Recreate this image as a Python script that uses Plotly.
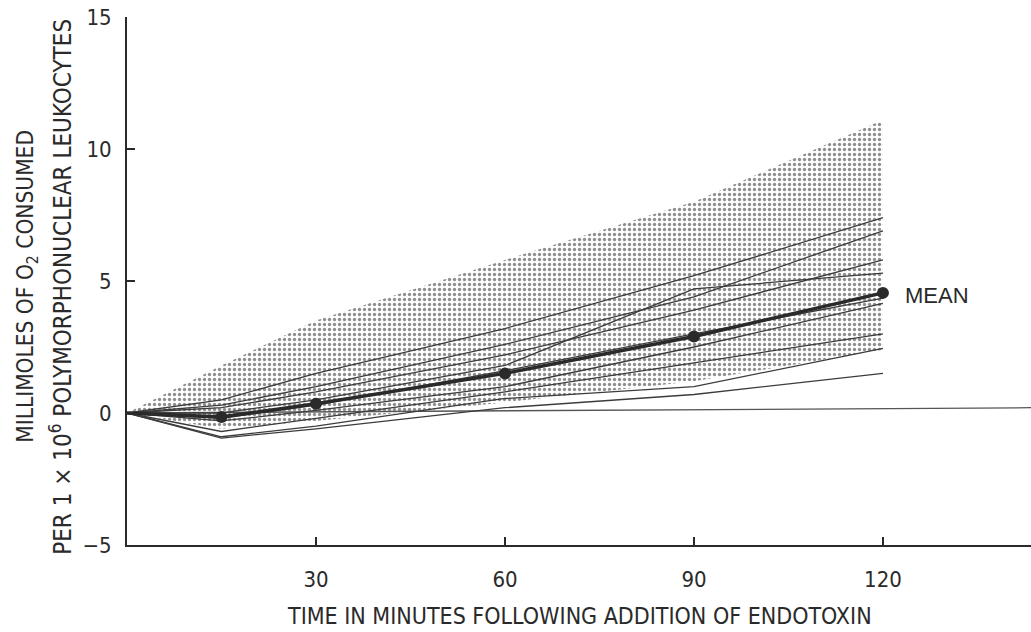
import plotly.graph_objects as go

# ---- data ----
times = [0, 15, 30, 60, 90, 120]

subjects = {
    "A": [0, 0.5, 1.5, 3.2, 5.2, 7.4],
    "B": [0, 0.3, 1.0, 2.6, 4.4, 6.9],
    "C": [0, 0.2, 0.8, 2.2, 3.9, 5.8],
    "D": [0, 0.0, 0.5, 1.8, 4.7, 5.3],
    "E": [0, -0.2, 0.3, 1.6, 3.0, 4.35],
    "F": [0, -0.3, 0.1, 1.0, 2.5, 4.15],
    "G": [0, -0.7, -0.2, 0.8, 1.9, 3.0],
    "H": [0, -0.9, -0.5, 0.55, 1.0, 2.45],
    "I": [0, -0.95, -0.6, 0.2, 0.7, 1.5],
}

mean_times = [0, 15, 30, 60, 90, 120]
mean_values = [0, -0.15, 0.35, 1.5, 2.9, 4.55]

band_upper = [0, 1.8, 3.5, 5.8, 8.0, 11.1]
band_lower = [0, -0.6, -0.3, 0.4, 1.2, 2.4]

baseline_x = [0, 143.5]
baseline_y = [0, 0.2]

x_ticks = [30, 60, 90, 120]
y_ticks = [-5, 0, 5, 10, 15]
y_tick_labels = ["\u22125", "0", "5", "10", "15"]

FONT = "Liberation Sans Narrow, DejaVu Sans Condensed, Arial Narrow, sans-serif"
INK = "#2a2a2a"

fig = go.Figure()

# stippled range band
fig.add_trace(go.Scatter(
    x=times + times[::-1],
    y=band_upper + band_lower[::-1],
    fill="toself",
    mode="lines",
    line=dict(width=0),
    fillcolor="rgba(0,0,0,0)",
    fillpattern=dict(shape=".", fgcolor="#1e1e1e", bgcolor="white", size=5, solidity=0.35),
    hoverinfo="skip",
    showlegend=False,
))

# baseline (zero) line
fig.add_trace(go.Scatter(
    x=baseline_x, y=baseline_y, mode="lines",
    line=dict(color="#555", width=1.3), showlegend=False,
))

# individual subjects
for name, vals in subjects.items():
    fig.add_trace(go.Scatter(
        x=times, y=vals, mode="lines",
        line=dict(color="#3c3c3c", width=1.3), name=name, showlegend=False,
    ))

# mean line
fig.add_trace(go.Scatter(
    x=mean_times, y=mean_values, mode="lines",
    line=dict(color="#2a2a2a", width=3.5), showlegend=False,
))
fig.add_trace(go.Scatter(
    x=mean_times[1:], y=mean_values[1:], mode="markers",
    marker=dict(color="#2a2a2a", size=12), showlegend=False,
))

fig.add_annotation(
    x=mean_times[-1], y=mean_values[-1], xref="x", yref="y",
    text="MEAN", showarrow=False, xanchor="left", xshift=20, yshift=-3,
    font=dict(family="Liberation Sans, Arial, sans-serif", size=22, color=INK),
)

# y-axis title (two lines)
fig.add_annotation(
    x=0, y=0.489, xref="paper", yref="paper", xanchor="center", yanchor="middle",
    xshift=-100,
    text="MILLIMOLES OF O<sub>2</sub> CONSUMED",
    textangle=-90, showarrow=False,
    font=dict(family=FONT, size=22.5, color=INK),
)
fig.add_annotation(
    x=0, y=0.489, xref="paper", yref="paper", xanchor="center", yanchor="middle",
    xshift=-66,
    text="PER 1 \u00d7 10<sup>6</sup> POLYMORPHONUCLEAR LEUKOCYTES",
    textangle=-90, showarrow=False,
    font=dict(family=FONT, size=24, color=INK),
)

# x-axis title
fig.add_annotation(
    x=0.5, y=0, xref="paper", yref="paper", xanchor="center", yanchor="middle",
    yshift=-71,
    text="TIME IN MINUTES FOLLOWING ADDITION OF ENDOTOXIN",
    showarrow=False,
    font=dict(family=FONT, size=23, color=INK),
)

fig.update_layout(
    width=1031, height=632,
    margin=dict(l=127, r=0, t=17, b=87),
    paper_bgcolor="white", plot_bgcolor="white",
    showlegend=False,
    xaxis=dict(
        range=[0, 143.5], tickvals=x_ticks, ticks="inside", ticklen=8,
        tickwidth=1.5, tickcolor=INK, showgrid=False, zeroline=False,
        showline=True, linecolor=INK, linewidth=2,
        ticklabelstandoff=14,
        tickfont=dict(family=FONT, size=22, color=INK),
    ),
    yaxis=dict(
        range=[-5, 15], tickvals=y_ticks, ticktext=y_tick_labels,
        ticks="inside", ticklen=8, tickwidth=1.5, tickcolor=INK,
        showgrid=False, zeroline=False,
        showline=True, linecolor=INK, linewidth=2,
        ticklabelstandoff=9,
        tickfont=dict(family=FONT, size=22, color=INK),
    ),
)

fig.write_html("out.html")
